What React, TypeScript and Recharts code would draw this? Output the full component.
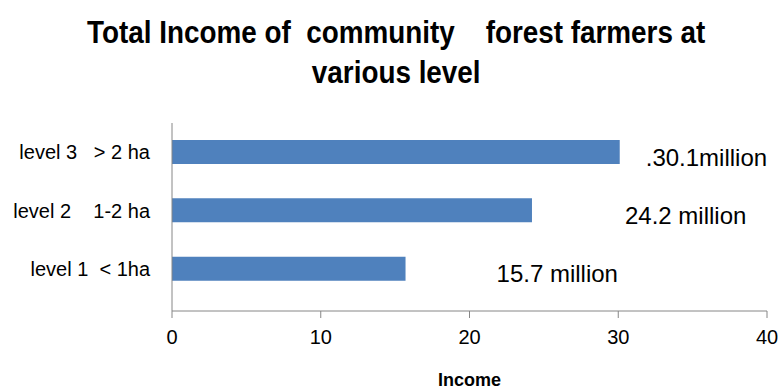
import { BarChart, Bar, XAxis, YAxis, LabelList, Label } from "recharts";

const categories = ["level 3   > 2 ha", "level 2    1-2 ha", "level 1  < 1ha"];
const incomes = [30.1, 24.2, 15.7];
const valueLabels = [".30.1million", "24.2 million", "15.7 million"];
const xTicks = [0, 10, 20, 30, 40];

// text boxes in the original sit at uneven distances from the bar ends
const LABEL_DX = [26, 93, 91];

const data = categories.map((name, i) => ({ name, income: incomes[i], label: valueLabels[i] }));

const AXIS = "#868686";
const FONT = "'Liberation Sans', Arial, sans-serif";

function CategoryTick(props: any) {
  const { x, y, payload } = props;
  return (
    <text x={x} y={y} textAnchor="end" dominantBaseline="central" xmlSpace="preserve"
      style={{ whiteSpace: "pre" }} fontSize={20} fill="#000" fontFamily={FONT}>
      {payload.value}
    </text>
  );
}

function ValueLabel(props: any) {
  const { x, y, width, height, index } = props;
  return (
    <text x={x + width + LABEL_DX[index]} y={y + height / 2 + 5} dominantBaseline="central"
      fontSize={24} fill="#000" fontFamily={FONT}>
      {valueLabels[index]}
    </text>
  );
}

export default function App() {
  return (
    <div style={{ position: "absolute", left: 0, top: 0, width: 781, height: 392, background: "#fff" }}>
      <div style={{
        position: "absolute", left: 5, top: 12, width: 781, textAlign: "center",
        fontFamily: FONT, fontWeight: "bold", fontSize: 32, lineHeight: "40px",
        whiteSpace: "pre", color: "#000", transform: "scaleX(0.87)", transformOrigin: "396px 0",
      }}>
        {"Total Income of  community    forest farmers at\nvarious level"}
      </div>
      <BarChart width={781} height={392} data={data} layout="vertical"
        margin={{ top: 123, right: 14, bottom: 0, left: 0 }} style={{ fontFamily: FONT }}>
        <XAxis type="number" domain={[0, 40]} ticks={xTicks} height={81} tickSize={7} tickMargin={12}
          stroke={AXIS} tick={{ fill: "#000", fontSize: 20 }}>
          <Label value="Income" position="insideBottom" offset={6} fill="#000" fontSize={18} fontWeight="bold" />
        </XAxis>
        <YAxis type="category" dataKey="name" width={172} tickLine={false} tickSize={0} tickMargin={22}
          stroke={AXIS} padding={{ top: 0, bottom: 13 }} tick={<CategoryTick />} />
        <Bar dataKey="income" fill="#4F81BD" barSize={24} isAnimationActive={false}>
          <LabelList dataKey="label" content={<ValueLabel />} />
        </Bar>
      </BarChart>
    </div>
  );
}
